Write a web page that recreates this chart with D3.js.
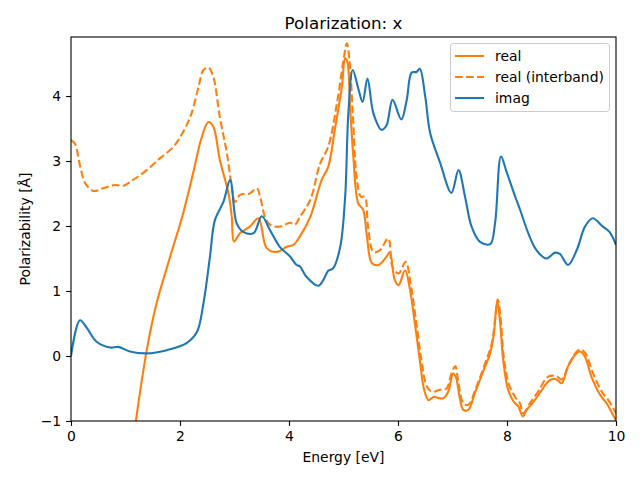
<!DOCTYPE html>
<html><head><meta charset="utf-8">
<script src="https://cdn.jsdelivr.net/npm/d3@7"></script>
<style>body{margin:0;background:#fff}svg{display:block;font-family:"DejaVu Sans",sans-serif}</style>
</head><body><svg id="c" width="640" height="480"></svg>
<script>
const title = "Polarization: x";
const xLabel = "Energy [eV]";
const yLabel = "Polarizability [Å]";
const xTicks = [0, 2, 4, 6, 8, 10];
const yTicks = [-1, 0, 1, 2, 3, 4];
const seriesNames = ["real", "real (interband)", "imag"];

const realE = [0.9,1.05,1.19,1.39,1.57,1.82,2.06,2.24,2.40,2.52,2.61,2.73,2.89,2.95,2.99,3.10,3.28,3.44,3.59,3.77,3.96,4.08,4.20,4.39,4.60,4.72,4.84,4.97,5.03,5.07,5.12,5.18,5.27,5.36,5.43,5.52,5.64,5.79,5.85,5.94,6.01,6.13,6.22,6.31,6.40,6.48,6.56,6.65,6.77,6.83,6.92,7.01,7.06,7.13,7.20,7.29,7.41,7.57,7.69,7.76,7.82,7.87,7.93,8.02,8.12,8.21,8.29,8.36,8.51,8.64,8.79,8.91,9.00,9.12,9.25,9.34,9.43,9.55,9.71,9.83,9.98,10.0];
const realV = [-2.9,-1.9,-1.0,0.09,0.81,1.53,2.2,2.81,3.37,3.60,3.53,3.02,2.5,2.14,1.76,1.89,1.99,2.12,1.66,1.60,1.68,1.71,1.84,2.14,2.71,2.91,3.48,4.14,4.58,4.53,3.84,3.07,2.35,2.25,1.84,1.43,1.40,1.53,1.60,1.17,1.09,1.32,1.02,0.50,-0.06,-0.52,-0.68,-0.63,-0.65,-0.65,-0.55,-0.27,-0.32,-0.63,-0.83,-0.83,-0.57,-0.22,0.04,0.35,0.84,0.55,-0.06,-0.52,-0.70,-0.78,-0.93,-0.83,-0.68,-0.52,-0.37,-0.36,-0.42,-0.16,0.02,0.07,-0.01,-0.32,-0.60,-0.73,-0.96,-0.99];

const interE = [0,0.07,0.17,0.26,0.41,0.59,0.81,0.96,1.14,1.39,1.63,1.88,2.06,2.21,2.34,2.43,2.52,2.61,2.73,2.86,2.95,3.01,3.10,3.28,3.41,3.47,3.56,3.65,3.83,4.02,4.11,4.20,4.39,4.57,4.72,4.88,5.00,5.06,5.11,5.17,5.24,5.32,5.39,5.45,5.55,5.67,5.82,5.90,6.01,6.14,6.23,6.33,6.43,6.53,6.62,6.77,6.89,6.98,7.05,7.11,7.20,7.29,7.44,7.60,7.72,7.78,7.83,7.88,7.94,8.04,8.15,8.24,8.30,8.42,8.57,8.75,8.91,9.00,9.16,9.28,9.35,9.44,9.58,9.74,9.86,10.0];
const interV = [3.32,3.27,2.91,2.66,2.54,2.58,2.63,2.62,2.71,2.86,3.04,3.22,3.45,3.73,4.14,4.40,4.44,4.30,3.68,3.12,2.60,2.37,2.48,2.50,2.58,2.45,2.14,2.02,1.99,2.05,2.02,2.14,2.40,2.96,3.22,3.89,4.55,4.81,4.55,3.73,2.76,2.45,2.45,1.99,1.60,1.63,1.81,1.37,1.27,1.45,1.12,0.55,-0.06,-0.47,-0.55,-0.52,-0.50,-0.27,-0.16,-0.42,-0.73,-0.75,-0.47,-0.11,0.19,0.55,0.87,0.61,-0.01,-0.45,-0.63,-0.73,-0.88,-0.73,-0.55,-0.32,-0.31,-0.36,-0.09,0.07,0.10,0.04,-0.27,-0.55,-0.68,-0.88];

const imagE = [0,0.165,0.30,0.47,0.72,0.87,1.08,1.39,1.76,2.12,2.31,2.43,2.55,2.64,2.80,2.92,3.04,3.16,3.35,3.50,3.65,3.83,4.02,4.14,4.20,4.32,4.54,4.63,4.72,4.81,4.94,5.03,5.09,5.17,5.27,5.35,5.44,5.55,5.70,5.79,5.90,6.06,6.16,6.25,6.34,6.40,6.50,6.59,6.77,6.98,7.11,7.23,7.35,7.50,7.69,7.78,7.89,7.99,8.15,8.24,8.39,8.54,8.72,8.88,8.97,9.12,9.28,9.43,9.57,9.76,9.88,10.0];
const imagV = [0,0.55,0.42,0.22,0.13,0.14,0.07,0.04,0.09,0.2,0.37,0.81,1.53,2.09,2.38,2.71,2.04,1.91,1.89,2.15,1.94,1.68,1.53,1.40,1.38,1.22,1.08,1.17,1.31,1.35,1.68,2.45,3.74,4.40,4.12,3.91,4.27,3.73,3.48,3.55,3.94,3.64,3.94,4.36,4.37,4.42,3.99,3.43,2.98,2.51,2.86,2.45,1.99,1.76,1.72,2.04,3.07,2.84,2.45,2.25,1.89,1.63,1.50,1.59,1.57,1.40,1.63,1.99,2.12,1.99,1.91,1.71];

const colors = {real: "#ff7f0e", imag: "#1f77b4"};
const svg = d3.select("#c");
const m = {l: 71, r: 616, t: 37, b: 421};
const x = d3.scaleLinear().domain([0, 10]).range([m.l, m.r]);
const y = d3.scaleLinear().domain([-1, 4.908]).range([m.b, m.t]);

svg.append("defs").append("clipPath").attr("id", "clip")
  .append("rect").attr("x", m.l).attr("y", m.t).attr("width", m.r - m.l).attr("height", m.b - m.t);

const line = d3.line().x(d => x(d[0])).y(d => y(d[1])).curve(d3.curveCatmullRom.alpha(0.5));
const g = svg.append("g").attr("clip-path", "url(#clip)");
const zip = (a, b) => a.map((v, i) => [v, b[i]]);
g.append("path").datum(zip(realE, realV)).attr("d", line).attr("fill", "none").attr("stroke", colors.real).attr("stroke-width", 2.1);
g.append("path").datum(zip(interE, interV)).attr("d", line).attr("fill", "none").attr("stroke", colors.real).attr("stroke-width", 2.1).attr("stroke-dasharray", "7.7,3.3");
g.append("path").datum(zip(imagE, imagV)).attr("d", line).attr("fill", "none").attr("stroke", colors.imag).attr("stroke-width", 2.1);

const fmt = d => (d < 0 ? "\u2212" + Math.abs(d) : "" + d);
const xa = svg.append("g").attr("transform", `translate(0,${m.b})`)
  .call(d3.axisBottom(x).tickValues(xTicks).tickFormat(fmt).tickSizeOuter(0).tickSize(4.9).tickPadding(4.9));
const ya = svg.append("g").attr("transform", `translate(${m.l},0)`)
  .call(d3.axisLeft(y).tickValues(yTicks).tickFormat(fmt).tickSizeOuter(0).tickSize(4.9).tickPadding(4.9));
[xa, ya].forEach(a => {
  a.selectAll("text").attr("font-size", 13.9).attr("font-family", "DejaVu Sans").attr("fill", "#000");
  a.selectAll("line").attr("stroke", "#000").attr("stroke-width", 1.1);
  a.select(".domain").remove();
});
svg.append("rect").attr("x", m.l).attr("y", m.t).attr("width", m.r - m.l).attr("height", m.b - m.t)
  .attr("fill", "none").attr("stroke", "#000").attr("stroke-width", 1.1);

svg.append("text").attr("x", (m.l + m.r) / 2).attr("y", 29).attr("text-anchor", "middle")
  .attr("font-size", 16.7).text(title);
svg.append("text").attr("x", (m.l + m.r) / 2).attr("y", 462).attr("text-anchor", "middle")
  .attr("font-size", 13.9).text(xLabel);
svg.append("text").attr("transform", `translate(30,${(m.t + m.b) / 2}) rotate(-90)`).attr("text-anchor", "middle")
  .attr("font-size", 13.9).text(yLabel);

const lg = svg.append("g");
lg.append("rect").attr("x", 450.5).attr("y", 43.5).attr("width", 159).attr("height", 68).attr("rx", 3)
  .attr("fill", "#fff").attr("fill-opacity", 0.8).attr("stroke", "#ccc").attr("stroke-width", 1);
const styles = [{c: colors.real, d: null}, {c: colors.real, d: "7.7,3.3"}, {c: colors.imag, d: null}];
seriesNames.forEach((n, i) => {
  const yy = 56 + i * 21;
  lg.append("line").attr("x1", 455).attr("x2", 484).attr("y1", yy).attr("y2", yy)
    .attr("stroke", styles[i].c).attr("stroke-width", 2.1).attr("stroke-dasharray", styles[i].d);
  lg.append("text").attr("x", 495).attr("y", yy + 5).attr("font-size", 13.9).text(n);
});
</script></body></html>
